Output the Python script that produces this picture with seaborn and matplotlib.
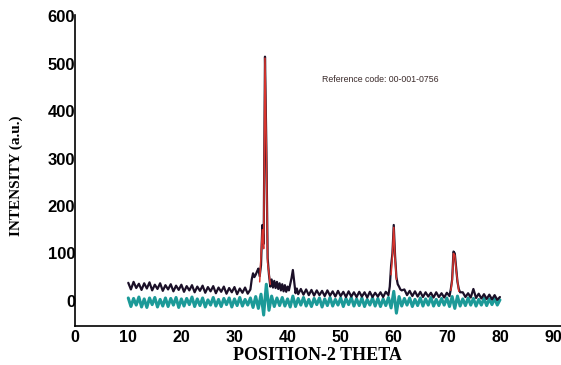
#!/usr/bin/env python3
import numpy as np
import pandas as pd
import matplotlib
matplotlib.use("Agg")
import matplotlib.pyplot as plt
import seaborn as sns

theta_obs = [
    10.0, 10.5, 11.0, 11.5, 12.0, 12.5, 13.0, 13.5, 14.0, 14.5, 15.0, 15.5,
    16.0, 16.5, 17.0, 17.5, 18.0, 18.5, 19.0, 19.5, 20.0, 20.5, 21.0, 21.5,
    22.0, 22.5, 23.0, 23.5, 24.0, 24.5, 25.0, 25.5, 26.0, 26.5, 27.0, 27.5,
    28.0, 28.5, 29.0, 29.5, 30.0, 30.5, 31.0, 31.5, 32.0, 32.5,
    33.0, 33.25, 33.5, 33.75, 34.0, 34.25, 34.5, 34.75, 35.0, 35.25, 35.5,
    35.75, 36.0, 36.25, 36.5, 36.75, 37.0, 37.25, 37.5, 37.75, 38.0, 38.25,
    38.5, 38.75, 39.0, 39.25, 39.5, 39.75, 40.0, 40.25, 40.5, 40.75, 41.0,
    41.25, 41.5, 41.75, 42.0,
    42.5, 43.0, 43.5, 44.0, 44.5, 45.0, 45.5, 46.0, 46.5, 47.0, 47.5, 48.0,
    48.5, 49.0, 49.5, 50.0, 50.5, 51.0, 51.5, 52.0, 52.5, 53.0, 53.5, 54.0,
    54.5, 55.0, 55.5, 56.0, 56.5, 57.0, 57.5, 58.0, 58.5, 59.0,
    59.25, 59.5, 59.75, 60.0, 60.25, 60.5, 60.75, 61.0, 61.25, 61.5,
    62.0, 62.5, 63.0, 63.5, 64.0, 64.5, 65.0, 65.5, 66.0, 66.5, 67.0, 67.5,
    68.0, 68.5, 69.0, 69.5, 70.0, 70.5,
    70.75, 71.0, 71.25, 71.5, 71.75, 72.0, 72.25, 72.5,
    73.0, 73.5, 74.0, 74.5, 75.0, 75.5, 76.0, 76.5, 77.0, 77.5, 78.0, 78.5,
    79.0, 79.5, 80.0,
]
intensity_obs = [
    38, 24, 40, 27, 36, 23, 37, 26, 39, 22, 34, 25,
    37, 21, 33, 24, 35, 20, 32, 23, 34, 19, 31, 22,
    33, 18, 30, 21, 32, 17, 29, 20, 31, 16, 28, 19,
    30, 15, 27, 18, 29, 14, 26, 17, 28, 15,
    24, 45, 58, 50, 55, 62, 68, 52, 75, 160, 120,
    515, 330, 90, 55, 30, 45, 28, 42, 27, 40, 25,
    37, 22, 35, 20, 33, 19, 30, 22, 35, 48, 65,
    40, 16, 26, 14,
    25, 13, 24, 12, 23, 11, 22, 12, 21, 10, 22, 11,
    20, 9, 21, 10, 19, 8, 20, 9, 18, 8, 19, 9,
    18, 7, 19, 8, 17, 9, 18, 8, 19, 12,
    30, 74, 100, 160, 95, 50, 35, 30, 24, 22,
    24, 12, 21, 10, 20, 9, 19, 8, 18, 9, 17, 7,
    18, 8, 16, 7, 17, 10,
    25, 45, 104, 100, 70, 40, 25, 18,
    18, 8, 16, 7, 25, 6, 15, 5, 14, 4, 13, 3,
    12, 2, 8,
]

# difference curve (teal), 10 to 80 deg in 0.5 deg steps
theta_diff = [
    10.0, 10.5, 11.0, 11.5, 12.0, 12.5, 13.0, 13.5, 14.0, 14.5, 15.0, 15.5,
    16.0, 16.5, 17.0, 17.5, 18.0, 18.5, 19.0, 19.5, 20.0, 20.5, 21.0, 21.5,
    22.0, 22.5, 23.0, 23.5, 24.0, 24.5, 25.0, 25.5, 26.0, 26.5, 27.0, 27.5,
    28.0, 28.5, 29.0, 29.5, 30.0, 30.5, 31.0, 31.5, 32.0, 32.5, 33.0, 33.5,
    34.0, 34.5, 35.0, 35.5, 36.0, 36.5, 37.0, 37.5, 38.0, 38.5, 39.0, 39.5,
    40.0, 40.5, 41.0, 41.5, 42.0, 42.5, 43.0, 43.5, 44.0, 44.5, 45.0, 45.5,
    46.0, 46.5, 47.0, 47.5, 48.0, 48.5, 49.0, 49.5, 50.0, 50.5, 51.0, 51.5,
    52.0, 52.5, 53.0, 53.5, 54.0, 54.5, 55.0, 55.5, 56.0, 56.5, 57.0, 57.5,
    58.0, 58.5, 59.0, 59.5, 60.0, 60.5, 61.0, 61.5, 62.0, 62.5, 63.0, 63.5,
    64.0, 64.5, 65.0, 65.5, 66.0, 66.5, 67.0, 67.5, 68.0, 68.5, 69.0, 69.5,
    70.0, 70.5, 71.0, 71.5, 72.0, 72.5, 73.0, 73.5, 74.0, 74.5, 75.0, 75.5,
    76.0, 76.5, 77.0, 77.5, 78.0, 78.5, 79.0, 79.5, 80.0,
]
intensity_diff = [
    6, -12, 5, -9, 8, -13, 4, -14, 6, -8, 7, -13,
    3, -11, 6, -12, 5, -9, 7, -14, 4, -11, 5, -8,
    8, -12, 4, -10, 6, -13, 2, -9, 7, -11, 3, -12,
    5, -8, 6, -13, 4, -10, 7, -11, 3, -9, 6, -14,
    9, -16, 14, -30, 35, -20, 10, -12, 6, -10, 7, -11,
    4, -13, 10, -12, 5, -9, 7, -11, 3, -12, 5, -8,
    6, -13, 4, -10, 7, -11, 3, -9, 6, -12, 5, -8,
    7, -11, 4, -10, 6, -12, 3, -9, 6, -11, 5, -12,
    4, -10, 7, -15, 20, -26, 9, -11, 5, -9, 6, -12,
    3, -10, 6, -11, 4, -9, 7, -11, 3, -10, 5, -9,
    6, -12, 9, -16, 10, -11, 4, -10, 6, -9, 5, -11,
    3, -9, 5, -10, 4, -8, 5, -9, 2,
]

# fitted profile (red) at the three main reflections
fit_peak = ["a"] * 7 + ["b"] * 5 + ["c"] * 6
fit_theta = [34.75, 35.25, 35.5, 35.75, 36.0, 36.25, 36.75,
             59.5, 59.75, 60.0, 60.25, 60.5,
             70.75, 71.0, 71.25, 71.5, 71.75, 72.25]
fit_intensity = [40, 150, 110, 512, 320, 80, 35,
                 55, 95, 155, 90, 45,
                 22, 42, 100, 96, 65, 20]

x_ticks = list(range(0, 100, 10))
y_ticks = list(range(0, 700, 100))

sns.set_style("white")
plt.rcParams["font.family"] = ["Liberation Sans", "DejaVu Sans"]

fig = plt.figure(figsize=(5.61, 3.65), dpi=100)
ax = fig.add_axes([0.134, 0.107, 0.866, 0.852])

obs = pd.DataFrame({"theta": theta_obs, "intensity": intensity_obs})
diff = pd.DataFrame({"theta": theta_diff, "intensity": intensity_diff})
fit = pd.DataFrame({"theta": fit_theta, "intensity": fit_intensity, "peak": fit_peak})

sns.lineplot(data=diff, x="theta", y="intensity", ax=ax, color="#1c9a98",
             lw=2.2, estimator=None, sort=False)
sns.lineplot(data=obs, x="theta", y="intensity", ax=ax, color="#1b1028",
             lw=1.6, estimator=None, sort=False)
sns.lineplot(data=fit, x="theta", y="intensity", units="peak", ax=ax,
             color="#d8352e", lw=1.1, estimator=None, sort=False)

ax.text(46.5, 466, "Reference code: 00-001-0756", fontsize=6.3,
        color="#3a2a2a", ha="left", va="center")

ax.set_xlim(0, 91.5)
ax.set_ylim(-53, 603)
ax.set_xticks(x_ticks)
ax.set_yticks(y_ticks)
ax.set_xticklabels([str(t) for t in x_ticks], fontweight="bold", fontsize=11.5)
ax.set_yticklabels([str(t) for t in y_ticks], fontweight="bold", fontsize=12)
ax.tick_params(axis="both", length=0, labelcolor="black")
ax.tick_params(axis="y", pad=0)
ax.tick_params(axis="x", pad=3)

ax.set_xlabel("POSITION-2 THETA", family=["Liberation Serif", "DejaVu Serif"],
              fontweight="bold", fontsize=13, color="black")
ax.set_ylabel("INTENSITY (a.u.)", family=["Liberation Serif", "DejaVu Serif"],
              fontweight="bold", fontsize=11, color="black")
ax.xaxis.set_label_coords(0.498, -0.068)
ax.yaxis.set_label_coords(-0.108, 0.482)

for side in ["top", "right"]:
    ax.spines[side].set_visible(False)
for side in ["left", "bottom"]:
    ax.spines[side].set_color("black")
    ax.spines[side].set_linewidth(1.2)

fig.savefig("out.png", dpi=100)
plt.close(fig)
